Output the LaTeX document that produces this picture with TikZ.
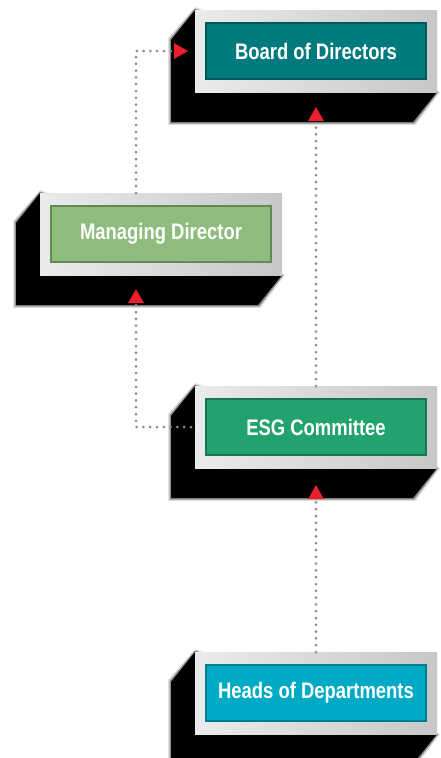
\documentclass[tikz,border=0pt]{standalone}
\usepackage{fontspec}
\newfontfamily\boxfont[FakeStretch=0.82]{Liberation Sans}
\usetikzlibrary{arrows.meta,backgrounds}
\definecolor{boardcol}{HTML}{007A7D}
\definecolor{mdcol}{HTML}{8DBC7C}
\definecolor{esgcol}{HTML}{22A36E}
\definecolor{headcol}{HTML}{00AAC5}
\definecolor{frameL}{HTML}{EAEBEC}
\definecolor{frameR}{HTML}{C6C7C9}
\definecolor{dotcol}{HTML}{8C8C8C}
\definecolor{tipcol}{HTML}{E8202A}
\tikzset{
  frame/.style={minimum width=242pt, minimum height=82pt, inner sep=0pt, outer sep=0pt,
    left color=frameL, right color=frameR, anchor=north west},
  panel/.style={minimum width=220pt, minimum height=56pt, inner sep=0pt, outer sep=0pt,
    fill=#1, draw=#1!72!black, line width=1.3pt, text=white,
    font=\boxfont\bfseries\fontsize{22.5}{24}\selectfont},
  link/.style={draw=dotcol, line width=3pt, line cap=round, dash pattern=on 0pt off 6.8pt,
    -{Triangle[length=14pt, width=16pt, color=tipcol, fill=tipcol, line width=0pt]}},
}
% extruded black block behind a frame node, with a soft rim
\newcommand{\blockshadow}[1]{%
  \fill[black!12] ([shift={(0,-3)}]#1.north west) -- ([shift={(-27,28)}]#1.north west)
    -- ([shift={(-27,33)}]#1.south west) -- ([shift={(-21.5,33)}]#1.south east)
    -- ([shift={(3,0)}]#1.south east) -- cycle;
  \fill[black!45] ([shift={(0,-1.5)}]#1.north west) -- ([shift={(-25.5,29)}]#1.north west)
    -- ([shift={(-25.5,31.5)}]#1.south west) -- ([shift={(-22.5,31.5)}]#1.south east)
    -- ([shift={(1.5,0)}]#1.south east) -- cycle;
  \fill[black] (#1.north west) -- ([shift={(-24,30)}]#1.north west)
    -- ([shift={(-24,30)}]#1.south west) -- ([shift={(-24,30)}]#1.south east)
    -- (#1.south east) -- cycle;}
\begin{document}
\begin{tikzpicture}[x=1pt, y=-1pt]
\useasboundingbox (0,0) rectangle (440,758);
% frames
\path node[frame] (board) at (195,10) {}
      node[frame] (md) at (40,193) {}
      node[frame] (esg) at (195,386) {}
      node[frame] (heads) at (195,652) {};
% coloured panels with the titles
\node[panel=boardcol] (boardt) at (board.center) {Board of Directors};
\node[panel=mdcol] (mdt) at (md.center) {Managing Director};
\node[panel=esgcol] (esgt) at (esg.center) {ESG Committee};
\node[panel=headcol] (headst) at (heads.center) {Heads of Departments};
% black extrusions
\begin{pgfonlayer}{background}
  \blockshadow{board}
  \blockshadow{md}
  \blockshadow{esg}
  \blockshadow{heads}
\end{pgfonlayer}
% reporting lines
\coordinate (mdport) at ([xshift=-25pt]md.north);
\coordinate (mdin) at ([xshift=-25pt]md.south);
\draw[link, shorten >=7pt] (mdport) |- (board.west);
\draw[link, shorten >=15pt] (esg.north -| board.south) -- (board.south);
\draw[link, shorten >=14pt] ([xshift=-4pt]esg.west) -| (mdin);
\draw[link, shorten >=17pt] (heads.north) -- (esg.south);
\end{tikzpicture}
\end{document}
